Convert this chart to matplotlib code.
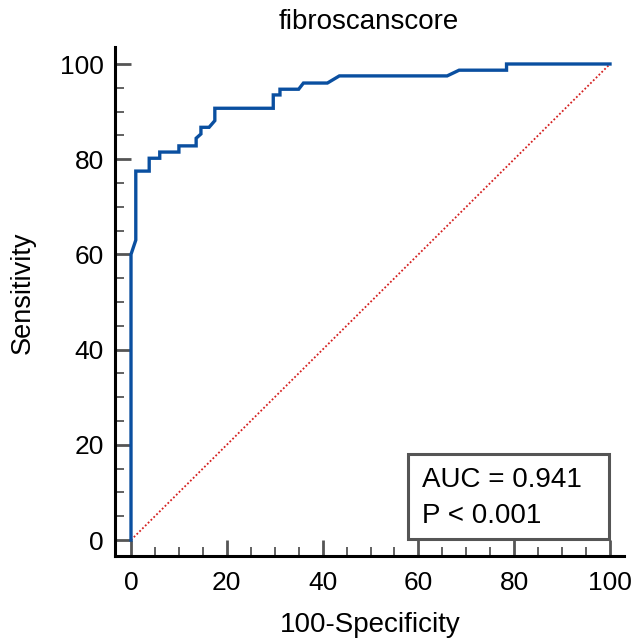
import matplotlib
matplotlib.use("Agg")
import matplotlib.pyplot as plt
from matplotlib.ticker import MultipleLocator
from matplotlib.patches import Rectangle

plt.rcParams['font.family'] = ['Liberation Sans', 'DejaVu Sans']

# ROC curve (100-Specificity, Sensitivity)
fpr = [0, 0, 1, 1, 3.8, 3.8, 6, 6, 10, 10, 13.6, 13.6, 14.6, 14.6, 16.3, 17.5, 17.5,
       29.7, 29.7, 31.1, 31.1, 35, 36, 41, 43.5, 66, 68.5, 78.4, 78.4, 100]
tpr = [0, 60, 63, 77.5, 77.5, 80.2, 80.2, 81.5, 81.5, 82.8, 82.8, 84.4, 85.3, 86.7, 86.7, 88.1, 90.7,
       90.7, 93.5, 93.5, 94.7, 94.7, 96, 96, 97.5, 97.5, 98.7, 98.7, 100, 100]
ref_line = [0, 100]
ticks = [0, 20, 40, 60, 80, 100]
title = "fibroscanscore"
auc_text = "AUC = 0.941"
p_text = "P < 0.001"

W, H = 633, 638
fig = plt.figure(figsize=(W / 100, H / 100), dpi=100)
ax = fig.add_axes([131 / W, 1 - 540 / H, (610 - 131) / W, (540 - 64) / H])

ax.plot(ref_line, ref_line, color='#d42020', lw=1.3, ls=(0, (1, 1.2)), clip_on=False, zorder=2)
ax.plot(fpr, tpr, color='#0a4fa0', lw=2.4, clip_on=False, zorder=3, solid_joinstyle='miter')

ax.set_xlim(0, 100)
ax.set_ylim(0, 100)
ax.set_xticks(ticks)
ax.set_yticks(ticks)
ax.xaxis.set_minor_locator(MultipleLocator(5))
ax.yaxis.set_minor_locator(MultipleLocator(5))

for s in ['top', 'right']:
    ax.spines[s].set_visible(False)
for s in ['left', 'bottom']:
    ax.spines[s].set_position(('outward', 11.5))
    ax.spines[s].set_linewidth(2.2)
    ax.spines[s].set_color('black')
ax.spines['left'].set_bounds(-3.3, 103.5)
ax.spines['bottom'].set_bounds(-3.3, 103)

ax.tick_params(which='major', direction='in', length=11.5, width=2.0, color='#555555',
               labelsize=19, pad=8)
ax.tick_params(which='minor', direction='in', length=6.5, width=1.3, color='#555555')
ax.tick_params(axis='x', which='major', pad=11)

# AUC box
ax.add_patch(Rectangle((0.578, 0.002), 0.42, 0.178, transform=ax.transAxes,
                       facecolor='white', edgecolor='#555555', lw=2.2, clip_on=False, zorder=4))
ax.text(0.607, 0.1107, auc_text, transform=ax.transAxes, fontsize=20, va='baseline', ha='left', zorder=5)
ax.text(0.607, 0.035, p_text, transform=ax.transAxes, fontsize=20, va='baseline', ha='left', zorder=5)

fig.text(369 / W, 1 - 29 / H, title, ha='center', va='baseline', fontsize=20)
fig.text(370 / W, 1 - 632 / H, "100-Specificity", ha='center', va='baseline', fontsize=20)
fig.text(23 / W, 1 - 293 / H, "Sensitivity", ha='center', va='center', rotation=90, fontsize=19.5)

fig.savefig("out.png", dpi=100)
